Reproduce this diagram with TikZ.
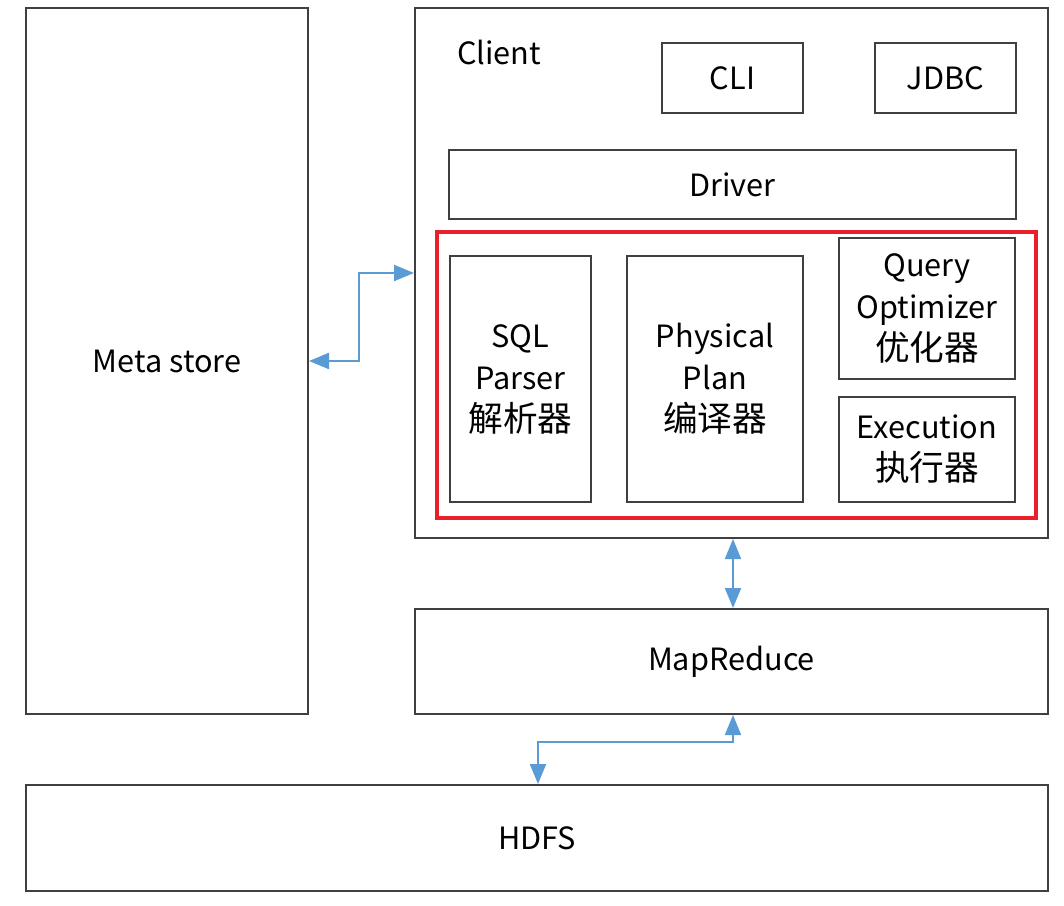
\documentclass[tikz,border=0pt]{standalone}
\usepackage{fontspec}
\setmainfont{Noto Sans CJK SC}
\usetikzlibrary{fit,arrows.meta}
\definecolor{boxline}{HTML}{404040}
\definecolor{arrowblue}{HTML}{5B9BD5}
\definecolor{redframe}{HTML}{E8202A}
\newcommand\zhsize{\fontsize{26}{31.5}\selectfont}
\tikzset{
  box/.style={draw=boxline, line width=1.5pt, inner sep=0pt},
  redbox/.style={draw=redframe, line width=2.6pt, inner sep=0pt},
  arr/.style={draw=arrowblue, line width=1.5pt,
              {Triangle[length=15pt,width=12pt]}-{Triangle[length=15pt,width=12pt]}},
  lbl/.style={font=\fontsize{23}{31.5}\selectfont, inner sep=0pt, align=center}
}
\begin{document}
\begin{tikzpicture}[x=0.75pt,y=-0.75pt]
\useasboundingbox (0,0) rectangle (1064,906);
\fill[white] (0,0) rectangle (1064,906);
% main boxes
\node[box, fit={(26,8)(308,714)}] (meta) {};
\node[box, fit={(415,8)(1048,538)}] (client) {};
\node[box, fit={(662,43)(803,113)}] (cli) {};
\node[box, fit={(875,43)(1016,113)}] (jdbc) {};
\node[box, fit={(449,150)(1016,219)}] (driver) {};
\node[redbox, fit={(437,232)(1036,518)}] (red) {};
\node[box, fit={(450,256)(591,502)}] (sql) {};
\node[box, fit={(627,256)(803,502)}] (phys) {};
\node[box, fit={(839,238)(1015,379)}] (opt) {};
\node[box, fit={(839,397)(1015,502)}] (exec) {};
\node[box, fit={(415,609)(1048,714)}] (mr) {};
\node[box, fit={(26,785)(1048,891)}] (hdfs) {};
% texts
\node[lbl] (metatxt) at (meta.center) {Meta store};
\node[lbl] (clienttxt) at (499,52) {Client};
\node[lbl] (clitxt) at (cli.center) {CLI};
\node[lbl] (jdbctxt) at (jdbc.center) {JDBC};
\node[lbl] (drivertxt) at (driver.center) {Driver};
\node[lbl] (sqltxt) at (sql.center) {SQL\\Parser\\{\zhsize 解析器}};
\node[lbl] (phystxt) at (phys.center) {Physical\\Plan\\{\zhsize 编译器}};
\node[lbl] (opttxt) at (opt.center) {Query\\Optimizer\\{\zhsize 优化器}};
\node[lbl] (exectxt) at (exec.center) {Execution\\{\zhsize 执行器}};
\node[lbl] (mrtxt) at (mr.center) {MapReduce};
\node[lbl] (hdfstxt) at (hdfs.center) {HDFS};
% connectors
\draw[arr] (client.west) -- ++(-55,0) |- (meta.east);
\coordinate (cx) at (733,0);
\draw[arr] (client.south -| cx) -- (mr.north -| cx);
\coordinate (hx) at (538,0);
\draw[arr] (mr.south -| cx) -- ++(0,27) -| (hdfs.north -| hx);
\end{tikzpicture}
\end{document}
